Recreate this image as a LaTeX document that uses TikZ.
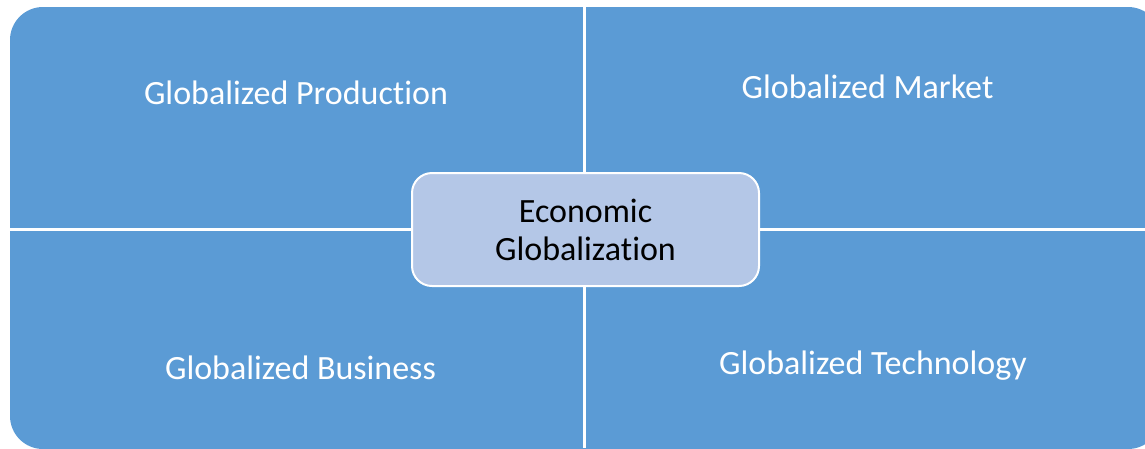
\documentclass[tikz,border=0pt]{standalone}
\usepackage{fontspec}
\setmainfont[Ligatures={NoCommon,NoContextual}]{Carlito}
\usepackage{tikz}
\definecolor{quadblue}{HTML}{5B9BD5}
\definecolor{hubblue}{HTML}{B4C7E7}

\begin{document}
\begin{tikzpicture}[x=1pt,y=-1pt,
    quadtext/.style={text=white,anchor=base,font=\fontsize{34}{38}\selectfont},
    hub/.style={fill=hubblue,draw=white,line width=2pt,rounded corners=20pt,
        minimum width=347pt,minimum height=113pt,align=center,
        font=\fontsize{34}{38}\selectfont}]
    \clip (0,0) rectangle (1145,448);
    % four quadrants, cut by a white cross
    \fill[quadblue,rounded corners=33pt] (10,7) rectangle (1161,449);
    \draw[white,line width=3pt] (584.5,0) -- (584.5,448);
    \draw[white,line width=3pt] (0,229.5) -- (1145,229.5);
    \node[quadtext] (prod) at (296,104) {Globalized Production};
    \node[quadtext] (market) at (867.5,98) {Globalized Market};
    \node[quadtext] (business) at (300.5,379) {Globalized Business};
    \node[quadtext] (tech) at (873,374) {Globalized Technology};
    \node[hub] (econ) at (585.5,229.5) {Economic\\Globalization};
\end{tikzpicture}
\end{document}
